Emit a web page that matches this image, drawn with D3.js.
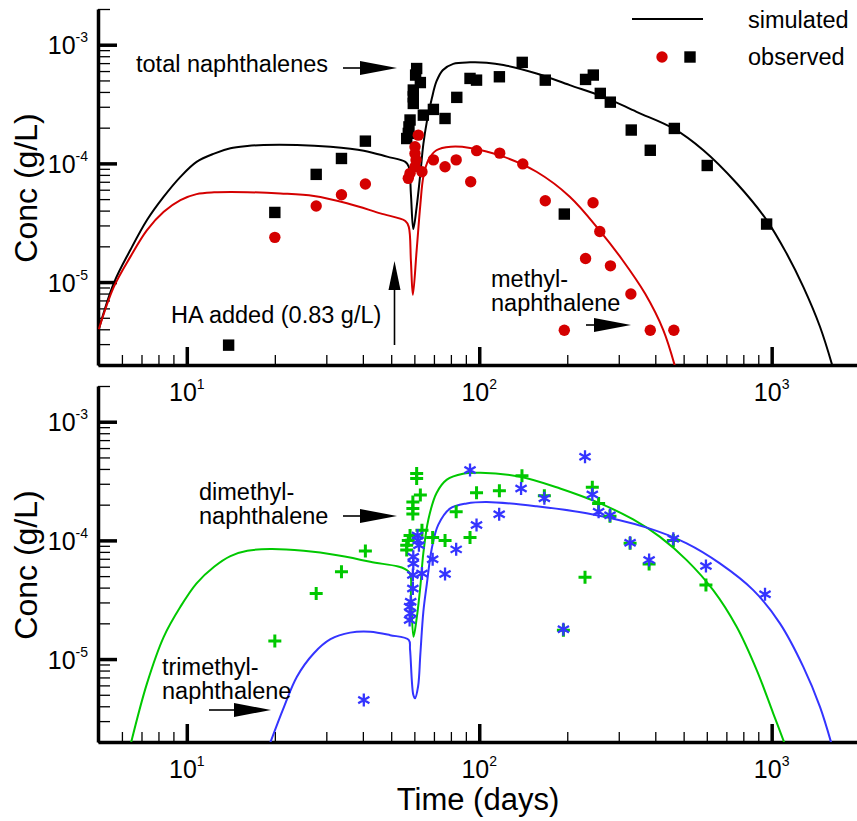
<!DOCTYPE html>
<html>
<head>
<meta charset="utf-8">
<script src="https://cdn.jsdelivr.net/npm/d3@7"></script>
<style>
  body { margin: 0; background: #fff; }
  svg { display: block; font-family: "Liberation Sans", Arial, Helvetica, sans-serif; }
</style>
</head>
<body>
<svg id="chart"></svg>
<script>
// ---- data: [time (days), conc (g/L)] ----
const totalSimulated = [
  [5, 4.0e-6], [5.63, 9.8e-6], [6.41, 1.86e-5], [7.31, 3.33e-5], [8.34, 5.24e-5],
  [9.51, 7.7e-5], [10.8, 1.03e-4], [12.4, 1.21e-4], [14.1, 1.34e-4], [16.1, 1.4e-4],
  [18.3, 1.43e-4], [23.8, 1.43e-4], [31, 1.38e-4], [40.3, 1.28e-4], [48.4, 1.14e-4],
  [55.9, 1.03e-4], [57.4, 9.4e-5], [58.4, 5.5e-5], [59.5, 2.8e-5], [61.1, 4.3e-5],
  [62.9, 8.2e-5], [64.4, 1.45e-4], [66.2, 2.25e-4], [68.8, 3.5e-4], [71.4, 4.9e-4],
  [75, 6.1e-4], [81.5, 6.9e-4], [93, 7.1e-4], [106, 7.05e-4], [121, 6.75e-4],
  [157, 5.73e-4], [204, 4.57e-4], [266, 3.64e-4], [345, 2.72e-4], [461, 1.97e-4],
  [584, 1.29e-4], [759, 6.8e-5], [961, 3.33e-5], [1125, 1.74e-5], [1283, 9.1e-6],
  [1463, 4.2e-6], [1615, 1.95e-6],
];
const methylSimulated = [
  [5, 4.0e-6], [5.63, 9.1e-6], [6.41, 1.63e-5], [7.31, 2.74e-5], [8.34, 3.91e-5],
  [9.51, 4.91e-5], [10.8, 5.51e-5], [12.4, 5.7e-5], [16.1, 5.72e-5], [20.9, 5.58e-5],
  [27.2, 5.31e-5], [35.3, 4.61e-5], [45.9, 3.79e-5], [55.9, 3.27e-5], [57.4, 2.93e-5],
  [58.4, 1.5e-5], [59.3, 7.8e-6], [61.1, 1.86e-5], [62.9, 4.5e-5], [64.4, 7.7e-5],
  [67, 1.07e-4], [71.4, 1.29e-4], [80, 1.38e-4], [93, 1.35e-4], [121, 1.14e-4],
  [157, 8.5e-5], [204, 5.24e-5], [259, 2.69e-5], [308, 1.55e-5], [369, 8.0e-6],
  [426, 3.94e-6], [467, 1.95e-6],
];
const dimethylSimulated = [
  [6.45, 1.98e-6], [7.31, 6.24e-6], [8.34, 1.54e-5], [9.51, 2.76e-5], [10.8, 4.35e-5],
  [12.4, 6.0e-5], [14.1, 7.38e-5], [16.1, 8.17e-5], [19.3, 8.45e-5], [25.1, 8.17e-5],
  [32.7, 7.51e-5], [42.4, 6.6e-5], [57.4, 5.44e-5], [58.4, 3.5e-5], [59.6, 1.54e-5],
  [61.1, 2.2e-5], [62.9, 4.1e-5], [64.4, 7.8e-5], [67, 1.5e-4], [71.4, 2.5e-4],
  [77.5, 3.25e-4], [88, 3.65e-4], [101, 3.72e-4], [138, 3.44e-4], [189, 2.74e-4],
  [259, 2.05e-4], [336, 1.5e-4], [415, 1.07e-4], [512, 6.82e-5], [631, 3.81e-5],
  [759, 1.87e-5], [889, 8.07e-6], [1012, 3.49e-6], [1104, 1.98e-6],
];
const trimethylSimulated = [
  [19.3, 1.98e-6], [21.5, 3.96e-6], [23.8, 7.1e-6], [27.2, 1.12e-5], [31, 1.47e-5],
  [36.2, 1.67e-5], [42.4, 1.7e-5], [49.6, 1.59e-5], [57.4, 1.45e-5], [58, 1.2e-5],
  [59.5, 5.0e-6], [60.3, 4.67e-6], [61.8, 5.9e-6], [62.9, 1.1e-5], [64.4, 2.5e-5],
  [66.2, 4.3e-5], [68.8, 8.5e-5], [72.4, 1.35e-4], [79.4, 1.85e-4], [90.6, 2.05e-4],
  [106, 2.11e-4], [157, 1.94e-4], [233, 1.69e-4], [374, 1.28e-4], [512, 9.44e-5],
  [665, 6.4e-5], [865, 3.81e-5], [1067, 2.0e-5], [1283, 8.6e-6], [1463, 3.96e-6],
  [1600, 1.95e-6],
];

const totalObserved = [
  [13.9, 2.94e-6], [20, 3.86e-5], [27.7, 8.08e-5], [33.8, 1.1e-4], [40.8, 1.54e-4],
  [56.5, 1.62e-4], [57.2, 1.79e-4], [57.5, 2.03e-4], [58, 2.32e-4], [59.5, 3.2e-4],
  [59.5, 3.64e-4], [59.5, 4.15e-4], [61.1, 6.3e-4], [60.6, 5.55e-4], [62.9, 4.8e-4],
  [64.4, 2.55e-4], [69.7, 2.85e-4], [76.4, 2.39e-4], [83.8, 3.6e-4], [93, 5.2e-4],
  [97.9, 5.03e-4], [117.2, 5.37e-4], [140.3, 7.1e-4], [168.2, 5.03e-4], [195.4, 3.74e-5],
  [231, 5.1e-4], [245.5, 5.55e-4], [259.4, 3.89e-4], [280.7, 3.28e-4], [331, 1.91e-4],
  [384.5, 1.29e-4], [464.7, 1.97e-4], [602, 9.6e-5], [961, 3.08e-5],
];
const methylObserved = [
  [20, 2.38e-5], [27.7, 4.37e-5], [33.8, 5.44e-5], [40.8, 6.7e-5], [61.9, 1.73e-4],
  [60.3, 1.38e-4], [60.3, 1.21e-4], [60.8, 1.07e-4], [60.3, 9.36e-5], [58, 8.24e-5],
  [57.2, 7.48e-5], [63.7, 8.5e-5], [69.7, 1.07e-4], [76.4, 9.36e-5], [83.4, 1.07e-4],
  [93.5, 7.0e-5], [98, 1.28e-4], [117.5, 1.22e-4], [140.9, 9.9e-5], [168.2, 4.84e-5],
  [195.4, 3.92e-6], [231, 1.58e-5], [245, 4.66e-5], [258.4, 2.67e-5], [281, 1.37e-5],
  [330, 7.93e-6], [384.5, 3.92e-6], [463, 3.92e-6],
];
const dimethylObserved = [
  [20, 1.42e-5], [27.7, 3.57e-5], [33.8, 5.43e-5], [40.8, 8.12e-5], [61.1, 3.66e-4],
  [61.1, 3.33e-4], [62.9, 2.41e-4], [59.3, 2.11e-4], [59.3, 1.86e-4], [59.3, 1.67e-4],
  [63.7, 1.22e-4], [58, 1.1e-4], [57.2, 1.0e-4], [56.5, 9.1e-5], [56.5, 8.3e-5],
  [69.3, 1.06e-4], [76.4, 1.0e-4], [83.4, 1.74e-4], [93, 1.06e-4], [97.9, 2.52e-4],
  [117.2, 2.62e-4], [140, 3.5e-4], [167, 2.38e-4], [194, 1.75e-5], [230, 4.88e-5],
  [243.6, 2.8e-4], [256, 2.05e-4], [280, 1.6e-4], [328, 9.44e-5], [381, 6.31e-5],
  [461, 1.0e-4], [596, 4.2e-5],
];
const trimethylObserved = [
  [40.3, 4.52e-6], [61.5, 1.1e-4], [61.8, 1.0e-4], [62.2, 9.1e-5], [59.5, 7.27e-5],
  [59.5, 6.4e-5], [59.3, 5.11e-5], [63.7, 5.27e-5], [59.3, 3.94e-5], [58.3, 3.04e-5],
  [57.8, 2.76e-5], [58.3, 2.43e-5], [57.8, 2.13e-5], [69.3, 6.92e-5], [76.4, 5.2e-5],
  [83.4, 8.4e-5], [97.9, 1.35e-4], [93, 3.91e-4], [117, 1.66e-4], [139, 2.74e-4],
  [167, 2.26e-4], [194, 1.78e-5], [230, 5.06e-4], [243.6, 2.44e-4], [256, 1.74e-4],
  [280, 1.63e-4], [328, 9.55e-5], [381, 6.82e-5], [461, 1.03e-4], [596, 6.07e-5],
  [949, 3.51e-5],
];

const xMajorTicks = [10, 100, 1000];
const yMajorTicks = [1e-5, 1e-4, 1e-3];
const legendLabels = ["simulated", "observed"];

const red = "#d40000";
const green = "#00c800";
const blue = "#3434ff";

// ---- layout ----
const w = 857;
const h = 821;
const left = 98;
const right = 857;
const panels = [
  { top: 9, bottom: 365 },
  { top: 386, bottom: 742 },
];

const svg = d3.select("#chart").attr("width", w).attr("height", h);

const xScale = d3.scaleLog().domain([4.97, 2000]).range([left, 859.7]);
const xMinorTicks = xScale.ticks().filter((t) => !xMajorTicks.includes(t) && t > 5.5);

const line = (yScale) =>
  d3
    .line()
    .x((d) => xScale(d[0]))
    .y((d) => yScale(d[1]))
    .curve(d3.curveCatmullRom.alpha(0.5));

const superLabel = (sel, exponent) => {
  sel.append("tspan").attr("font-size", 25).text("10");
  sel.append("tspan").attr("font-size", 14).attr("dy", -12).text(exponent);
};

const drawPanel = (panel, index) => {
  const yScale = d3.scaleLog().domain([2e-6, 2e-3]).range([panel.bottom, panel.top]);
  const yMinorTicks = yScale.ticks().filter((t) => !yMajorTicks.some((m) => Math.abs(m - t) / m < 1e-6));
  const g = svg.append("g");

  g.append("clipPath")
    .attr("id", "clip" + index)
    .append("rect")
    .attr("x", left)
    .attr("y", panel.top)
    .attr("width", right - left)
    .attr("height", panel.bottom - panel.top);

  // axes: minor ticks with the axis line, then the long decade ticks
  const xMinor = g
    .append("g")
    .attr("transform", `translate(0,${panel.bottom})`)
    .call(d3.axisBottom(xScale).tickValues(xMinorTicks).tickSize(-10).tickSizeOuter(0).tickFormat(""));
  xMinor.selectAll(".tick line").attr("stroke-width", 1.3);
  xMinor.select(".domain").attr("stroke-width", 3.5);
  const xMajor = g
    .append("g")
    .attr("transform", `translate(0,${panel.bottom})`)
    .call(d3.axisBottom(xScale).tickValues(xMajorTicks).tickSize(-18).tickSizeOuter(0).tickFormat(""));
  xMajor.selectAll(".tick line").attr("stroke-width", 3.5);
  xMajor.select(".domain").remove();

  const yMinor = g
    .append("g")
    .attr("transform", `translate(${left},0)`)
    .call(d3.axisLeft(yScale).tickValues(yMinorTicks).tickSize(-12).tickSizeOuter(0).tickFormat(""));
  yMinor.selectAll(".tick line").attr("stroke-width", 1.3);
  yMinor.select(".domain").attr("stroke-width", 3.5);
  const yMajor = g
    .append("g")
    .attr("transform", `translate(${left},0)`)
    .call(d3.axisLeft(yScale).tickValues(yMajorTicks).tickSize(-19).tickSizeOuter(0).tickFormat(""));
  yMajor.selectAll(".tick line").attr("stroke-width", 3.5);
  yMajor.select(".domain").remove();

  // tick labels with superscripts
  xMajorTicks.forEach((t) => {
    g.append("text")
      .attr("x", xScale(t))
      .attr("y", panel.bottom + 36)
      .attr("text-anchor", "middle")
      .call(superLabel, String(Math.round(Math.log10(t))));
  });
  yMajorTicks.forEach((c) => {
    g.append("text")
      .attr("x", 88)
      .attr("y", yScale(c) + 9.5)
      .attr("text-anchor", "end")
      .call(superLabel, String(Math.round(Math.log10(c))));
  });

  g.append("text")
    .attr("transform", `translate(37,${(panel.top + panel.bottom) / 2 + 1}) rotate(-90)`)
    .attr("text-anchor", "middle")
    .attr("font-size", 32)
    .text("Conc (g/L)");

  return { g, yScale, clip: "url(#clip" + index + ")" };
};

const drawCurve = (p, data, color) => {
  p.g.append("path")
    .datum(data)
    .attr("clip-path", p.clip)
    .attr("fill", "none")
    .attr("stroke", color)
    .attr("stroke-width", 2)
    .attr("d", line(p.yScale));
};

const squares = (p, data) => {
  p.g.selectAll(null)
    .data(data)
    .enter()
    .append("rect")
    .attr("x", (d) => xScale(d[0]) - 5.7)
    .attr("y", (d) => p.yScale(d[1]) - 5.7)
    .attr("width", 11.4)
    .attr("height", 11.4)
    .attr("fill", "#000");
};
const circles = (p, data, color) => {
  p.g.selectAll(null)
    .data(data)
    .enter()
    .append("circle")
    .attr("cx", (d) => xScale(d[0]))
    .attr("cy", (d) => p.yScale(d[1]))
    .attr("r", 5.7)
    .attr("fill", color);
};
const symbols = (p, data, color, shape, width) => {
  p.g.selectAll(null)
    .data(data)
    .enter()
    .append("path")
    .attr("transform", (d) => `translate(${xScale(d[0])},${p.yScale(d[1])})`)
    .attr("d", shape)
    .attr("fill", "none")
    .attr("stroke", color)
    .attr("stroke-width", width);
};
const plusShape = "M-6.5,0H6.5M0,-6.5V6.5";
const starShape = "M0,-6.5V6.5M-5.6,-3.25L5.6,3.25M-5.6,3.25L5.6,-3.25";

const arrow = (x1, y1, x2, y2, headLen, headHalf) => {
  const a = Math.atan2(y2 - y1, x2 - x1);
  const bx = x2 - headLen * Math.cos(a);
  const by = y2 - headLen * Math.sin(a);
  const nx = -Math.sin(a) * headHalf;
  const ny = Math.cos(a) * headHalf;
  svg.append("line")
    .attr("x1", x1).attr("y1", y1).attr("x2", bx).attr("y2", by)
    .attr("stroke", "#000").attr("stroke-width", 1.6);
  svg.append("path")
    .attr("d", `M${x2},${y2}L${bx + nx},${by + ny}L${bx - nx},${by - ny}Z`)
    .attr("fill", "#000");
};

const label = (x, y, lines) => {
  const t = svg.append("text").attr("font-size", 23.5);
  lines.forEach((s, i) => {
    t.append("tspan").attr("x", x).attr("y", y + i * 23.5).text(s);
  });
};

// ---- top panel ----
const topPanel = drawPanel(panels[0], 0);
drawCurve(topPanel, totalSimulated, "#000");
drawCurve(topPanel, methylSimulated, red);
squares(topPanel, totalObserved);
circles(topPanel, methylObserved, red);

// ---- bottom panel ----
const bottomPanel = drawPanel(panels[1], 1);
drawCurve(bottomPanel, dimethylSimulated, green);
drawCurve(bottomPanel, trimethylSimulated, blue);
symbols(bottomPanel, dimethylObserved, green, plusShape, 3);
symbols(bottomPanel, trimethylObserved, blue, starShape, 2.3);

svg.append("text")
  .attr("x", 478)
  .attr("y", 810)
  .attr("text-anchor", "middle")
  .attr("font-size", 31)
  .text("Time (days)");

// ---- legend ----
svg.append("line").attr("x1", 632).attr("x2", 703).attr("y1", 19).attr("y2", 19)
  .attr("stroke", "#000").attr("stroke-width", 2);
svg.append("circle").attr("cx", 662).attr("cy", 57).attr("r", 5.7).attr("fill", red);
svg.append("rect").attr("x", 684.3).attr("y", 51.3).attr("width", 11.4).attr("height", 11.4).attr("fill", "#000");
label(748, 28, [legendLabels[0]]);
label(748, 65, [legendLabels[1]]);

// ---- annotations ----
label(136, 72, ["total naphthalenes"]);
arrow(343, 68, 397, 68, 37, 7);
label(171, 323, ["HA added (0.83 g/L)"]);
arrow(394.5, 345, 394.5, 261, 29, 6);
label(491, 287, ["methyl-", "naphthalene"]);
arrow(586, 325, 631, 325, 37, 7);
label(199, 500, ["dimethyl-", "naphthalene"]);
arrow(343, 516, 397, 516, 37, 7);
label(162, 675, ["trimethyl-", "naphthalene"]);
arrow(209, 710, 271, 710, 37, 7);
</script>
</body>
</html>
